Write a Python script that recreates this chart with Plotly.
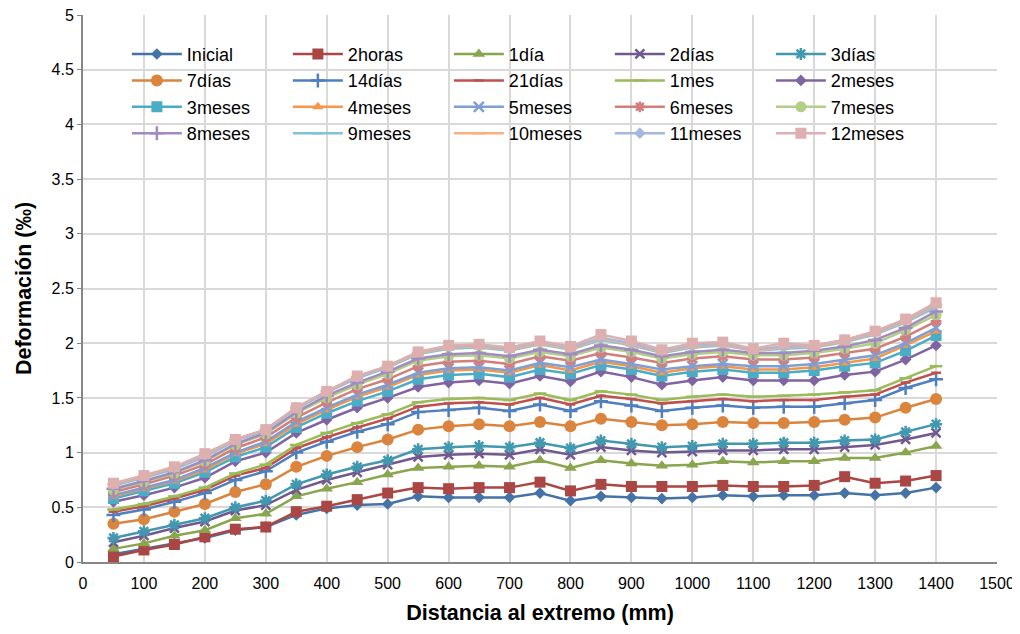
import plotly.graph_objects as go

x_mm = [50, 100, 150, 200, 250, 300, 350, 400, 450, 500, 550, 600, 650, 700,
        750, 800, 850, 900, 950, 1000, 1050, 1100, 1150, 1200, 1250, 1300, 1350, 1400]

inicial = [0.07, 0.12, 0.17, 0.22, 0.29, 0.32, 0.43, 0.49, 0.52, 0.53, 0.60, 0.59, 0.59, 0.59,
           0.63, 0.56, 0.60, 0.59, 0.58, 0.59, 0.61, 0.60, 0.61, 0.61, 0.63, 0.61, 0.63, 0.68]
horas2 = [0.05, 0.11, 0.16, 0.23, 0.30, 0.32, 0.46, 0.51, 0.57, 0.63, 0.68, 0.67, 0.68, 0.68,
          0.73, 0.65, 0.71, 0.69, 0.69, 0.69, 0.70, 0.69, 0.69, 0.70, 0.78, 0.72, 0.74, 0.79]
dia1 = [0.12, 0.17, 0.24, 0.29, 0.40, 0.44, 0.60, 0.67, 0.73, 0.80, 0.86, 0.87, 0.88, 0.87,
        0.93, 0.86, 0.93, 0.90, 0.88, 0.89, 0.92, 0.91, 0.92, 0.92, 0.95, 0.95, 1.00, 1.06]
dias2 = [0.18, 0.24, 0.31, 0.37, 0.47, 0.52, 0.66, 0.75, 0.82, 0.89, 0.96, 0.98, 0.99, 0.98,
         1.03, 0.98, 1.05, 1.02, 1.00, 1.01, 1.02, 1.02, 1.03, 1.03, 1.05, 1.07, 1.12, 1.18]
dias3 = [0.22, 0.28, 0.34, 0.40, 0.50, 0.56, 0.71, 0.80, 0.87, 0.93, 1.03, 1.05, 1.06, 1.05,
         1.09, 1.04, 1.11, 1.08, 1.05, 1.06, 1.08, 1.08, 1.09, 1.09, 1.11, 1.12, 1.19, 1.26]
dias7 = [0.35, 0.39, 0.46, 0.53, 0.64, 0.71, 0.87, 0.97, 1.05, 1.12, 1.21, 1.24, 1.26, 1.24,
         1.28, 1.24, 1.31, 1.28, 1.25, 1.26, 1.28, 1.27, 1.27, 1.28, 1.30, 1.32, 1.41, 1.49]
dias14 = [0.43, 0.48, 0.55, 0.63, 0.75, 0.83, 1.00, 1.10, 1.19, 1.26, 1.37, 1.39, 1.41, 1.38,
          1.44, 1.38, 1.47, 1.43, 1.38, 1.41, 1.43, 1.41, 1.42, 1.42, 1.45, 1.48, 1.59, 1.67]
dias21 = [0.46, 0.51, 0.58, 0.66, 0.79, 0.86, 1.04, 1.14, 1.23, 1.31, 1.42, 1.45, 1.46, 1.44,
          1.50, 1.44, 1.52, 1.49, 1.45, 1.47, 1.49, 1.47, 1.48, 1.48, 1.51, 1.53, 1.64, 1.73]
mes1 = [0.48, 0.53, 0.60, 0.68, 0.81, 0.89, 1.07, 1.18, 1.27, 1.35, 1.46, 1.49, 1.50, 1.48,
        1.54, 1.48, 1.56, 1.53, 1.48, 1.51, 1.53, 1.51, 1.52, 1.53, 1.55, 1.57, 1.68, 1.79]
meses2 = [0.55, 0.61, 0.68, 0.77, 0.92, 1.00, 1.18, 1.30, 1.41, 1.50, 1.60, 1.64, 1.66, 1.63,
          1.70, 1.65, 1.74, 1.69, 1.62, 1.66, 1.69, 1.66, 1.66, 1.66, 1.71, 1.74, 1.85, 1.98]
meses3 = [0.58, 0.65, 0.72, 0.82, 0.96, 1.05, 1.23, 1.36, 1.47, 1.56, 1.67, 1.71, 1.72, 1.69,
          1.76, 1.72, 1.80, 1.76, 1.70, 1.74, 1.76, 1.73, 1.73, 1.75, 1.79, 1.82, 1.93, 2.07]
meses4 = [0.60, 0.67, 0.74, 0.84, 0.99, 1.08, 1.26, 1.39, 1.51, 1.60, 1.71, 1.75, 1.76, 1.73,
          1.80, 1.75, 1.83, 1.79, 1.73, 1.77, 1.79, 1.76, 1.76, 1.78, 1.82, 1.86, 1.98, 2.11]
meses5 = [0.61, 0.68, 0.75, 0.86, 1.00, 1.10, 1.28, 1.41, 1.53, 1.62, 1.73, 1.77, 1.78, 1.75,
          1.82, 1.78, 1.85, 1.81, 1.76, 1.79, 1.81, 1.79, 1.79, 1.81, 1.85, 1.89, 2.00, 2.14]
meses6 = [0.64, 0.71, 0.79, 0.89, 1.04, 1.14, 1.32, 1.46, 1.58, 1.67, 1.79, 1.83, 1.84, 1.81,
          1.88, 1.84, 1.91, 1.87, 1.82, 1.86, 1.88, 1.85, 1.85, 1.87, 1.91, 1.95, 2.06, 2.20]
meses7 = [0.66, 0.73, 0.81, 0.92, 1.07, 1.17, 1.36, 1.50, 1.62, 1.72, 1.84, 1.88, 1.89, 1.86,
          1.92, 1.88, 1.96, 1.92, 1.86, 1.90, 1.92, 1.89, 1.89, 1.91, 1.95, 2.00, 2.12, 2.26]
meses8 = [0.67, 0.74, 0.82, 0.93, 1.08, 1.18, 1.37, 1.52, 1.64, 1.74, 1.86, 1.90, 1.91, 1.88,
          1.94, 1.90, 1.98, 1.94, 1.88, 1.92, 1.94, 1.91, 1.91, 1.93, 1.97, 2.03, 2.14, 2.29]
meses9 = [0.70, 0.77, 0.85, 0.96, 1.11, 1.20, 1.40, 1.55, 1.68, 1.78, 1.90, 1.95, 1.96, 1.93,
          1.99, 1.94, 2.03, 1.98, 1.91, 1.96, 1.98, 1.93, 1.95, 1.96, 2.01, 2.08, 2.19, 2.33]
meses10 = [0.71, 0.78, 0.86, 0.97, 1.12, 1.21, 1.41, 1.56, 1.69, 1.79, 1.91, 1.96, 1.97, 1.94,
           2.00, 1.95, 2.04, 1.99, 1.92, 1.97, 1.99, 1.93, 1.96, 1.97, 2.02, 2.09, 2.20, 2.35]
meses11 = [0.71, 0.79, 0.86, 0.98, 1.12, 1.21, 1.41, 1.56, 1.69, 1.79, 1.92, 1.97, 1.98, 1.95,
           2.01, 1.96, 2.05, 2.00, 1.93, 1.98, 2.00, 1.94, 1.97, 1.98, 2.03, 2.10, 2.21, 2.36]
meses12 = [0.72, 0.79, 0.87, 0.99, 1.12, 1.21, 1.41, 1.56, 1.70, 1.79, 1.92, 1.98, 1.99, 1.96,
           2.02, 1.97, 2.08, 2.02, 1.94, 2.00, 2.01, 1.95, 2.00, 1.98, 2.03, 2.11, 2.22, 2.37]

series_names = ["Inicial", "2horas", "1día", "2días", "3días",
                "7días", "14días", "21días", "1mes", "2meses",
                "3meses", "4meses", "5meses", "6meses", "7meses",
                "8meses", "9meses", "10meses", "11meses", "12meses"]
series_values = [inicial, horas2, dia1, dias2, dias3,
                 dias7, dias14, dias21, mes1, meses2,
                 meses3, meses4, meses5, meses6, meses7,
                 meses8, meses9, meses10, meses11, meses12]
colors = ["#4572A7", "#AA4643", "#89A54E", "#71588F", "#4198AF",
          "#DB843D", "#4F7FBF", "#C0504D", "#9BBB59", "#8064A2",
          "#4BACC6", "#F79646", "#7F9ED4", "#D47E7C", "#B2CF85",
          "#A28BC0", "#7FC4D8", "#F9B07D", "#A5B9DE", "#DDAFAE"]
symbols = ["diamond", "square", "triangle-up", "x-thin", "asterisk",
           "circle", "cross-thin", "line-ew", "line-ew", "diamond",
           "square", "triangle-up", "x-thin", "asterisk", "circle",
           "cross-thin", "line-ew", "line-ew", "diamond", "square"]
sizes = [9, 11, 11, 9, 10,
         12, 10, 7, 9, 9,
         11, 10, 10, 9, 11,
         10, 8, 9, 9, 11]

x_ticks = list(range(0, 1600, 100))
y_ticks = [0, 0.5, 1, 1.5, 2, 2.5, 3, 3.5, 4, 4.5, 5]
y_tick_labels = ["0", "0.5", "1", "1.5", "2", "2.5", "3", "3.5", "4", "4.5", "5"]

fig = go.Figure()
for name, vals, col, sym, sz in zip(series_names, series_values, colors, symbols, sizes):
    open_sym = sym in ("x-thin", "asterisk", "cross-thin", "line-ew")
    fig.add_trace(go.Scatter(
        x=x_mm, y=vals, name=name, mode="lines+markers",
        line=dict(color=col, width=2.5),
        marker=dict(symbol=sym, size=sz, color=col,
                    line=dict(color=col, width=2.5 if open_sym else 0)),
    ))

font_family = "Arial, Liberation Sans, sans-serif"
fig.update_layout(
    width=1012, height=626,
    margin=dict(l=75, r=23, t=7, b=72),
    paper_bgcolor="white", plot_bgcolor="white",
    font=dict(family=font_family, size=16, color="black"),
    showlegend=True,
    legend=dict(
        orientation="h", x=0.048, y=0.962, xanchor="left", yanchor="top",
        entrywidth=96, entrywidthmode="pixels", itemwidth=50,
        font=dict(family=font_family, size=18, color="black"),
        bgcolor="rgba(0,0,0,0)", tracegroupgap=0,
        traceorder="normal",
    ),
    xaxis=dict(
        range=[0, 1500], tickmode="array", tickvals=x_ticks,
        showgrid=True, gridcolor="#d9d9d9", gridwidth=2,
        showline=True, linecolor="#868686", linewidth=2,
        ticks="", ticklabelstandoff=6,
        zeroline=False, mirror=False, automargin=False,
        tickfont=dict(size=16),
        title=dict(text="<b>Distancia al extremo (mm)</b>", font=dict(size=21.5), standoff=14),
    ),
    yaxis=dict(
        range=[0, 5], tickmode="array", tickvals=y_ticks, ticktext=y_tick_labels,
        showgrid=True, gridcolor="#d9d9d9", gridwidth=2,
        showline=True, linecolor="#868686", linewidth=2,
        ticks="outside", ticklen=4, tickcolor="#868686",
        zeroline=False, automargin=False, ticklabeloverflow="allow",
        tickfont=dict(size=16),
        title=dict(text="<b>Deformación (‰)</b>", font=dict(size=21.5), standoff=14),
    ),
)

fig.write_html("out.html")
